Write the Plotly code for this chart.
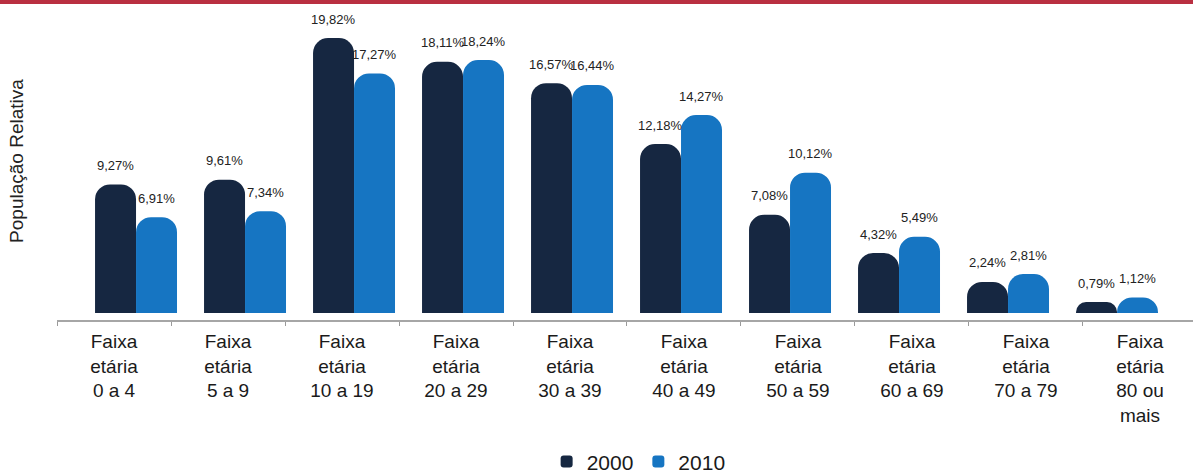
import plotly.graph_objects as go

# age groups and relative population (%) per census year
faixas = ["0 a 4", "5 a 9", "10 a 19", "20 a 29", "30 a 39",
          "40 a 49", "50 a 59", "60 a 69", "70 a 79", "80 ou mais"]
pop_2000 = [9.27, 9.61, 19.82, 18.11, 16.57, 12.18, 7.08, 4.32, 2.24, 0.79]
pop_2010 = [6.91, 7.34, 17.27, 18.24, 16.44, 14.27, 10.12, 5.49, 2.81, 1.12]
anos = ["2000", "2010"]

tick_labels = ["Faixa<br>etária<br>" + f.replace(" ou ", " ou<br>") for f in faixas]

COR_2000 = "#162741"
COR_2010 = "#1675c2"
FONT = "Arial, Liberation Sans, sans-serif"


def pct(v):
    return f"{v:.2f}".replace(".", ",") + "%"


fig = go.Figure()
for ano, vals, cor in [(anos[0], pop_2000, COR_2000), (anos[1], pop_2010, COR_2010)]:
    fig.add_trace(go.Bar(
        name=ano, x=faixas, y=vals,
        marker=dict(color=cor, cornerradius=15, line=dict(width=0)),
        hoverinfo="skip",
    ))

# invisible trace that carries the visible category axis
fig.add_trace(go.Scatter(
    x=faixas, y=[0] * len(faixas), xaxis="x2", mode="markers",
    marker=dict(opacity=0), showlegend=False, hoverinfo="skip",
))

# value labels above bars
annotations = []
for vals, shift in [(pop_2000, -20.5), (pop_2010, 20.5)]:
    for f, v in zip(faixas, vals):
        annotations.append(dict(
            x=f, y=v, xref="x", yref="y", text=pct(v), showarrow=False,
            xshift=shift, yshift=19, font=dict(size=13, color="#222222", family=FONT),
        ))

annotations.append(dict(
    text="População Relativa", textangle=-90, showarrow=False,
    xref="paper", yref="paper", x=-0.0352, y=0.51, xanchor="center", yanchor="middle",
    font=dict(size=19, color="#222222", family=FONT),
))

fig.update_layout(
    width=1193, height=473,
    margin=dict(l=57, r=0, t=8, b=153, autoexpand=False),
    paper_bgcolor="white", plot_bgcolor="white",
    barmode="group", bargap=0.248, bargroupgap=0,
    font=dict(family=FONT, color="#1a1a1a"),
    xaxis=dict(visible=False, range=[-0.725, 9.697], automargin=False),
    xaxis2=dict(
        overlaying="x", side="bottom", range=[-0.5, 9.465],
        tickmode="array", tickvals=faixas, ticktext=tick_labels,
        tickson="boundaries", ticks="outside", ticklen=4, tickcolor="#9a9a9a",
        showline=True, linecolor="#a6a6a6", linewidth=2,
        showgrid=False, zeroline=False, ticklabelstandoff=3, automargin=False,
        tickfont=dict(size=19, color="#1a1a1a", family=FONT),
    ),
    yaxis=dict(visible=False, range=[-0.505, 21.99], automargin=False),
    showlegend=True,
    legend=dict(
        orientation="h", x=0.512, xanchor="center", y=-0.52, yanchor="bottom",
        font=dict(size=21, color="#1a1a1a", family=FONT),
        itemclick=False, tracegroupgap=0,
    ),
    annotations=annotations,
    shapes=[dict(
        type="rect", xref="paper", yref="paper",
        x0=-0.0502, x1=1, y0=1.0128, y1=1.0256,
        fillcolor="#b92f41", line=dict(width=0),
    )],
)

# drop the page's default body margin so the figure fills the window
fig.write_html(
    "out.html",
    config={"displayModeBar": False},
    post_script="document.body.style.margin = '0';",
)
